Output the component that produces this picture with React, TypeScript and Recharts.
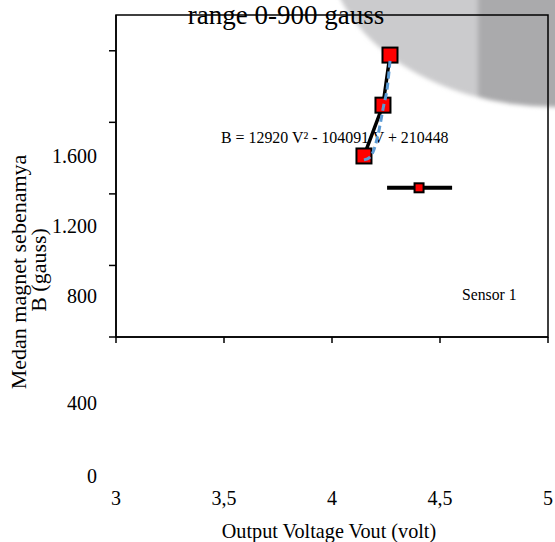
import React from 'react';
import { ComposedChart, Scatter, XAxis, YAxis, ReferenceArea, Customized } from 'recharts';

// Axis ticks and their printed labels
const voltTicks = [3, 3.5, 4, 4.5, 5];
const voltTickLabels = ['3', '3,5', '4', '4,5', '5'];
const gaussTicks = [0, 200, 400, 600, 800];
const gaussTickLabels = ['0', '400', '800', '1.200', '1.600'];

// Sensor 1 readings (output voltage vs. field)
const sensorV = [4.148, 4.236, 4.2685];
const sensorB = [506, 648, 788];

// Polynomial trend curve as drawn
const trendV = [4.148, 4.176, 4.19, 4.213, 4.238, 4.257, 4.2685];
const trendB = [495, 503, 517, 565, 643, 702, 772];

// Separate single reading with its horizontal bar
const singleV = [4.403];
const singleB = [417];
const barV = [4.255, 4.556];
const barB = [417, 417];

const toPoints = (vs: number[], bs: number[]) => vs.map((v, i) => ({ v, b: bs[i] }));

const sensorData = toPoints(sensorV, sensorB);
const trendData = toPoints(trendV, trendB);
const singleData = toPoints(singleV, singleB);
const barData = toPoints(barV, barB);

const FONT = '"Liberation Serif", "Times New Roman", serif';

const yLabelShift = [146, 145, 109, 111, 112];
const xLabelShift = 160;

function GaussTick(props: any) {
  const { x, y, payload } = props;
  const i = gaussTicks.indexOf(payload.value);
  if (i < 0) return <g />;
  return (
    <text x={x - 10} y={y + yLabelShift[i]} textAnchor="end" fontSize={20} fontFamily={FONT} fill="#000">
      {gaussTickLabels[i]}
    </text>
  );
}

function VoltTick(props: any) {
  const { x, y, payload } = props;
  const i = voltTicks.indexOf(payload.value);
  if (i < 0) return <g />;
  return (
    <text x={x} y={y + xLabelShift} textAnchor="middle" fontSize={20} fontFamily={FONT} fill="#000">
      {voltTickLabels[i]}
    </text>
  );
}

const square = (size: number) => (props: any) => {
  const { cx, cy } = props;
  if (cx == null || cy == null) return <g />;
  return (
    <rect x={cx - size / 2} y={cy - size / 2} width={size} height={size} fill="#ff0000" stroke="#000" strokeWidth={2} />
  );
};

const noMarker = () => <g />;

function Annotations() {
  return (
    <g fontFamily={FONT} fill="#000">
      <text x={286} y={24} textAnchor="middle" fontSize={27}>range 0-900 gauss</text>
      <text x={221} y={143} fontSize={15.9}>B = 12920 V² - 104091 V + 210448</text>
      <text x={462} y={300} fontSize={15.7}>Sensor 1</text>
      <text x={329} y={538} textAnchor="middle" fontSize={20.2}>Output Voltage Vout (volt)</text>
      <text transform="translate(26,272) rotate(-90)" textAnchor="middle" fontSize={22}>Medan magnet sebenamya</text>
      <text transform="translate(46,270) rotate(-90)" textAnchor="middle" fontSize={22}>B (gauss)</text>
    </g>
  );
}

export default function App() {
  return (
    <div style={{ position: 'absolute', left: 0, top: 0, width: 555, height: 542, overflow: 'hidden', background: '#fff' }}>
      <div
        style={{
          position: 'absolute',
          left: 326,
          top: -225,
          width: 458,
          height: 332,
          borderRadius: '50%',
          background: 'linear-gradient(to right, #cbcbcd 0px, #cbcbcd 150px, #aaaaac 154px, #aaaaac 458px)',
          filter: 'blur(2px)',
        }}
      />
      <div style={{ position: 'absolute', left: 0, top: 0 }}>
        <ComposedChart width={555} height={542} margin={{ top: 15, right: 7, bottom: 0, left: 0 }}>
          <XAxis
            type="number"
            dataKey="v"
            domain={[3, 5]}
            ticks={voltTicks}
            height={205}
            axisLine={{ stroke: '#000', strokeWidth: 1.5 }}
            tickLine={{ stroke: '#000', strokeWidth: 1.5 }}
            tickSize={6}
            tickMargin={2}
            tick={<VoltTick />}
            interval={0}
          />
          <YAxis
            type="number"
            dataKey="b"
            domain={[0, 900]}
            ticks={gaussTicks}
            width={116}
            axisLine={{ stroke: '#000', strokeWidth: 1.5 }}
            tickLine={{ stroke: '#000', strokeWidth: 1.5 }}
            tickSize={7}
            tickMargin={2}
            tick={<GaussTick />}
            interval={0}
          />
          <ReferenceArea x1={3} x2={5} y1={0} y2={900} fill="none" stroke="#000" strokeWidth={1.5} />
          <Customized component={<Annotations />} />
          <Scatter
            data={barData}
            shape={noMarker}
            line={{ stroke: '#000', strokeWidth: 4 }}
            isAnimationActive={false}
          />
          <Scatter data={singleData} shape={square(9)} isAnimationActive={false} />
          <Scatter
            data={sensorData}
            shape={square(15)}
            line={{ stroke: '#000', strokeWidth: 3.5 }}
            isAnimationActive={false}
          />
          <Scatter
            data={trendData}
            shape={noMarker}
            line={{ stroke: '#5b9bd5', strokeWidth: 3, strokeDasharray: '7 4' }}
            lineJointType="monotoneX"
            isAnimationActive={false}
          />
        </ComposedChart>
      </div>
    </div>
  );
}
